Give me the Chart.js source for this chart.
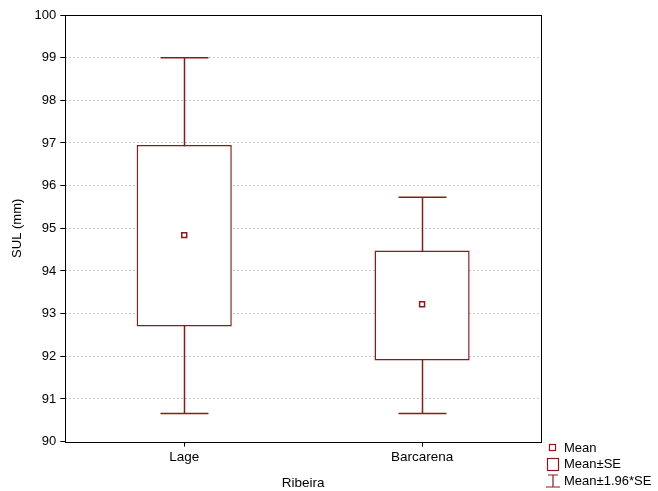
<!DOCTYPE html>
<html>
<head>
<meta charset="utf-8">
<script src="https://cdn.jsdelivr.net/npm/chart.js@4.4.1/dist/chart.umd.min.js"></script>
<style>
  html, body { margin: 0; padding: 0; background: #fff; }
  #wrap { width: 658px; height: 491px; }
</style>
</head>
<body>
<div id="wrap"><canvas id="myChart" width="658" height="491"></canvas></div>
<script>
// data
const categories = ['Lage', 'Barcarena'];
const means = [94.84, 93.22];
const se_low = [92.70, 91.90];
const se_high = [96.95, 94.48];
const ci_low = [90.66, 90.66];
const ci_high = [99.0, 95.73];
const y_ticks = [90, 91, 92, 93, 94, 95, 96, 97, 98, 99, 100];

const red = '#8b1a1a';
const family = 'Liberation Sans, Arial, sans-serif';
const font = { family, size: 13 };
const xfont = { family, size: 13.5 };

// whiskers drawn behind the boxes
const whiskers = {
    id: 'whiskers',
    beforeDatasetsDraw(chart) {
        const { ctx, scales: { x, y } } = chart;
        ctx.save();
        ctx.strokeStyle = red;
        ctx.lineWidth = 1.5;
        categories.forEach((c, i) => {
            const cx = Math.round(x.getPixelForValue(i)) + 0.5;
            const top = y.getPixelForValue(ci_high[i]);
            const bot = y.getPixelForValue(ci_low[i]);
            ctx.beginPath();
            ctx.moveTo(cx, top);
            ctx.lineTo(cx, bot);
            ctx.moveTo(cx - 24, top);
            ctx.lineTo(cx + 24, top);
            ctx.moveTo(cx - 24, bot);
            ctx.lineTo(cx + 24, bot);
            ctx.stroke();
        });
        ctx.restore();
    }
};

// frame around the plot + legend on the bottom right
const frame = {
    id: 'frame',
    afterDraw(chart) {
        const { ctx, chartArea: a } = chart;
        ctx.save();
        ctx.strokeStyle = '#000';
        ctx.lineWidth = 1;
        ctx.strokeRect(Math.round(a.left) + 0.5, Math.round(a.top) + 0.5,
            Math.round(a.right - a.left), Math.round(a.bottom - a.top));

        ctx.strokeStyle = red;
        ctx.lineWidth = 1.2;
        ctx.fillStyle = '#000';
        ctx.font = '13px ' + family;
        ctx.textBaseline = 'middle';
        // Mean
        ctx.strokeRect(549.5, 444.5, 6, 6);
        ctx.fillText('Mean', 564, 448);
        // Mean±SE
        ctx.strokeRect(547.5, 458.5, 11, 12);
        ctx.fillText('Mean±SE', 564, 464);
        // Mean±1.96*SE
        ctx.beginPath();
        ctx.moveTo(553, 475); ctx.lineTo(553, 487);
        ctx.moveTo(548, 475); ctx.lineTo(558, 475);
        ctx.moveTo(546, 487); ctx.lineTo(560, 487);
        ctx.stroke();
        ctx.fillText('Mean±1.96*SE', 564, 481);
        ctx.restore();
    }
};

new Chart(document.getElementById('myChart').getContext('2d'), {
    type: 'bar',
    data: {
        labels: categories,
        datasets: [
            {
                type: 'line',
                label: 'Mean',
                data: means,
                showLine: false,
                pointStyle: 'rect',
                pointRadius: 3.5,
                pointBackgroundColor: '#fff',
                pointBorderColor: red,
                pointBorderWidth: 1.5,
                order: 0
            },
            {
                label: 'Mean±SE',
                data: categories.map((c, i) => [se_low[i], se_high[i]]),
                backgroundColor: '#fff',
                borderColor: red,
                borderWidth: 1.5,
                borderSkipped: false,
                categoryPercentage: 1,
                barPercentage: 0.4,
                order: 1
            }
        ]
    },
    options: {
        responsive: false,
        animation: false,
        layout: { padding: { left: 6, right: 117, top: 15, bottom: 0 } },
        plugins: {
            legend: { display: false },
            tooltip: { enabled: false }
        },
        scales: {
            x: {
                offset: true,
                grid: { display: true, drawOnChartArea: false, offset: false, tickLength: 5, tickColor: '#000' },
                border: { display: false },
                ticks: { color: '#000', font: xfont, padding: 3 },
                title: { display: true, text: 'Ribeira', color: '#000', font: xfont, padding: { top: 6, bottom: 0 } }
            },
            y: {
                min: 90,
                max: 100,
                afterBuildTicks: axis => { axis.ticks = y_ticks.map(v => ({ value: v })); },
                grid: {
                    color: ctx => (ctx.tick && (ctx.tick.value === 90 || ctx.tick.value === 100)) ? 'rgba(0,0,0,0)' : '#c8c8c8',
                    tickColor: '#000',
                    tickLength: 5,
                    lineWidth: 1
                },
                border: { display: false, dash: [2, 2] },
                ticks: { color: '#000', font, padding: 4 },
                title: { display: true, text: 'SUL (mm)', color: '#000', font, padding: { top: 4, bottom: 5 } }
            }
        }
    },
    plugins: [whiskers, frame]
});
</script>
</body>
</html>
